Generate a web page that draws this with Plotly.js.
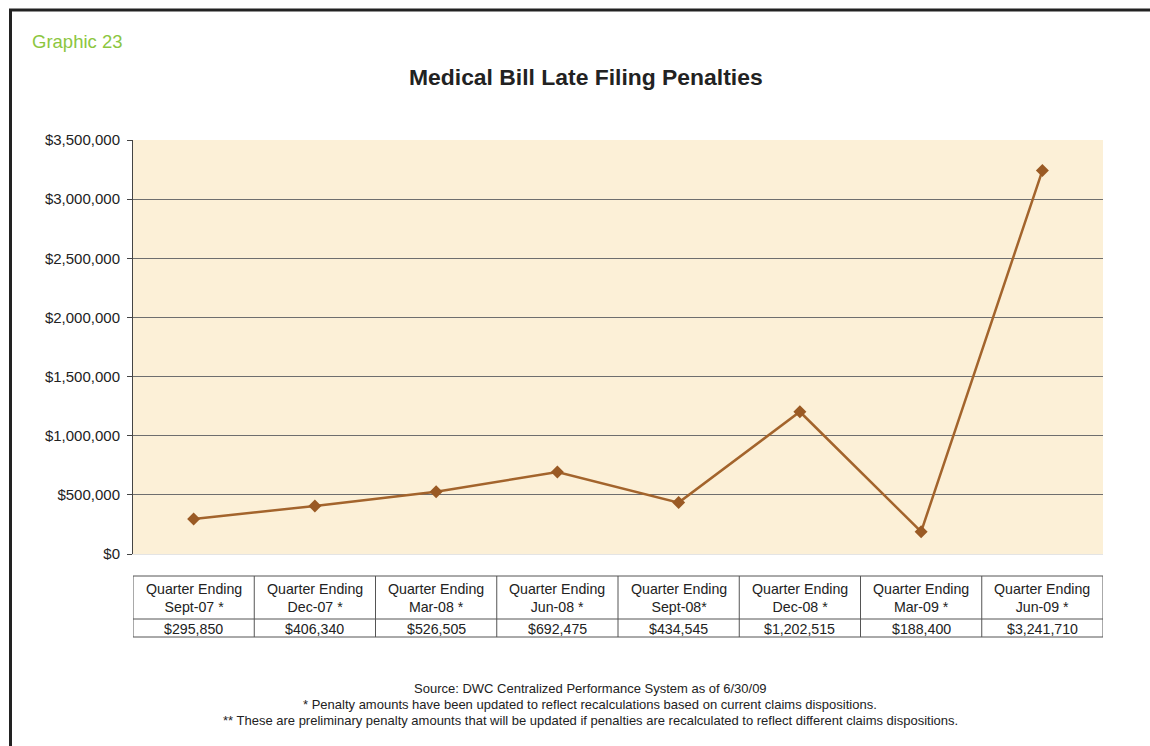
<!DOCTYPE html>
<html>
<head>
<meta charset="utf-8">
<script src="https://cdn.plot.ly/plotly-3.0.1.min.js"></script>
<style>
html,body{margin:0;padding:0;background:#fff;}
#chart{width:1150px;height:746px;}
</style>
</head>
<body>
<div id="chart"></div>
<script>
// ---- data ----
const categories = ["Sept-07", "Dec-07", "Mar-08", "Jun-08", "Sept-08", "Dec-08", "Mar-09", "Jun-09"];
const headerLabels = ["Quarter Ending<br>Sept-07 *", "Quarter Ending<br>Dec-07 *", "Quarter Ending<br>Mar-08 *", "Quarter Ending<br>Jun-08 *",
                      "Quarter Ending<br>Sept-08*", "Quarter Ending<br>Dec-08 *", "Quarter Ending<br>Mar-09 *", "Quarter Ending<br>Jun-09 *"];
const penalties = [295850, 406340, 526505, 692475, 434545, 1202515, 188400, 3241710];
const yTickVals = [0, 500000, 1000000, 1500000, 2000000, 2500000, 3000000, 3500000];
const yTickText = ["$0", "$500,000", "$1,000,000", "$1,500,000", "$2,000,000", "$2,500,000", "$3,000,000", "$3,500,000"];
const titleText = "Medical Bill Late Filing Penalties";
const graphicLabel = "Graphic 23";
const notes = ["Source: DWC Centralized Performance System as of 6/30/09",
  "* Penalty amounts have been updated to reflect recalculations based on current claims dispositions.",
  "** These are preliminary penalty amounts that will be updated if penalties are recalculated to reflect different claims dispositions."];

// ---- layout geometry (pixels) ----
const W = 1150, H = 746;
const L = 133, R = 1103, T = 140, B = 554;
const px = x => (x - L) / (R - L);
const py = y => (B - y) / (B - T);

const fmt = v => "$" + v.toLocaleString("en-US");

const trace = {
  x: categories,
  y: penalties,
  type: "scatter",
  mode: "lines+markers",
  line: {color: "#a3642c", width: 2.5},
  marker: {symbol: "diamond", size: 10, color: "#9a5a24"},
  hoverinfo: "x+y"
};

const shapes = [];
const annotations = [];
const tableTop = 576, tableMid = 619, tableBot = 637;
const lineStyle = {color: "#555", width: 1};
// horizontal table lines
[tableTop, tableMid, tableBot].forEach(y => {
  shapes.push({type: "line", xref: "x", yref: "paper", x0: -0.5, x1: categories.length - 0.5, y0: py(y), y1: py(y), line: lineStyle});
});
// vertical table lines
for (let i = 0; i <= categories.length; i++) {
  shapes.push({type: "line", xref: "x", yref: "paper", x0: i - 0.5, x1: i - 0.5, y0: py(tableTop), y1: py(tableBot), line: lineStyle});
}
categories.forEach((c, i) => {
  annotations.push({xref: "x", yref: "paper", x: i, y: py((tableTop + tableMid) / 2), text: headerLabels[i],
    showarrow: false, xanchor: "center", yanchor: "middle", font: {family: "Liberation Sans, Arial, sans-serif", size: 14.2, color: "#222"}});
  annotations.push({xref: "x", yref: "paper", x: i, y: py((tableMid + tableBot) / 2 + 1), text: fmt(penalties[i]),
    showarrow: false, xanchor: "center", yanchor: "middle", font: {family: "Liberation Sans, Arial, sans-serif", size: 14.2, color: "#222"}});
});
// frame border (top and left)
shapes.push({type: "line", xref: "paper", yref: "paper", x0: px(9), x1: px(1160), y0: py(10), y1: py(10), line: {color: "#222", width: 3}});
shapes.push({type: "line", xref: "paper", yref: "paper", x0: px(10.5), x1: px(10.5), y0: py(9), y1: py(760), line: {color: "#222", width: 3}});

annotations.push({xref: "paper", yref: "paper", x: px(30), y: py(41), text: graphicLabel, showarrow: false,
  xanchor: "left", yanchor: "middle", font: {family: "Liberation Sans, Arial, sans-serif", size: 18.5, color: "#8cc63f"}});
annotations.push({xref: "paper", yref: "paper", x: px(586), y: py(77), text: "<b>" + titleText + "</b>", showarrow: false,
  xanchor: "center", yanchor: "middle", font: {family: "Liberation Sans, Arial, sans-serif", size: 22.9, color: "#222"}});
notes.forEach((n, i) => {
  annotations.push({xref: "paper", yref: "paper", x: px(590), y: py(688 + 16 * i), text: n, showarrow: false,
    xanchor: "center", yanchor: "middle", font: {family: "Liberation Sans, Arial, sans-serif", size: 13, color: "#222"}});
});

const layout = {
  width: W, height: H,
  margin: {l: L, r: W - R, t: T, b: H - B, pad: 0},
  paper_bgcolor: "#ffffff",
  plot_bgcolor: "#fcf0d7",
  showlegend: false,
  xaxis: {type: "category", range: [-0.5, categories.length - 0.5], showticklabels: false, ticks: "",
          showgrid: false, zeroline: false, showline: true, linecolor: "#e4e4e4", linewidth: 1, fixedrange: true},
  yaxis: {range: [0, 3500000], tickvals: yTickVals, ticktext: yTickText, ticks: "outside", ticklen: 5, tickcolor: "#444",
          showline: true, linecolor: "#444", linewidth: 1, showgrid: true, gridcolor: "#6e6e6e", gridwidth: 1, zeroline: false,
          ticklabelstandoff: 4,
          tickfont: {family: "Liberation Sans, Arial, sans-serif", size: 15, color: "#222"}, fixedrange: true},
  shapes: shapes,
  annotations: annotations
};

Plotly.newPlot("chart", [trace], layout, {displayModeBar: false, staticPlot: true});
</script>
</body>
</html>
